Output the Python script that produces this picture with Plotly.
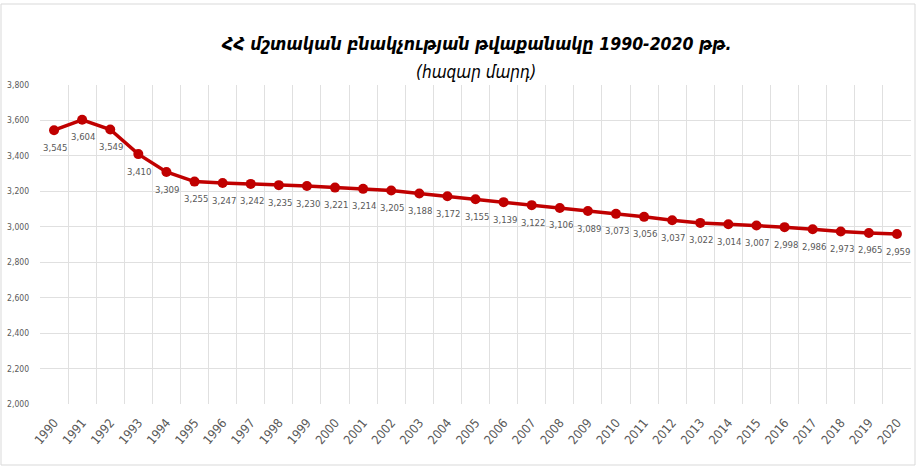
import plotly.graph_objects as go

years = [str(y) for y in range(1990, 2021)]
population = [3545, 3604, 3549, 3410, 3309, 3255, 3247, 3242, 3235, 3230, 3221,
              3214, 3205, 3188, 3172, 3155, 3139, 3122, 3106, 3089, 3073, 3056,
              3037, 3022, 3014, 3007, 2998, 2986, 2973, 2965, 2959]
y_ticks = list(range(2000, 3801, 200))

title_text = "ՀՀ մշտական բնակչության թվաքանակը 1990-2020 թթ."
subtitle_text = "(հազար մարդ)"

xs = list(range(len(years)))
FONT = "DejaVu Sans Condensed"

fig = go.Figure()
fig.add_trace(go.Scatter(
    x=xs, y=population,
    mode="lines+markers",
    line=dict(color="#C00000", width=3.5),
    marker=dict(color="#C00000", size=10),
    hoverinfo="skip",
    cliponaxis=False,
))

W, H = 916, 466
ML, MR, MT, MB = 40, 5, 85, 62
plot_w = W - ML - MR
plot_h = H - MT - MB

annotations = [
    dict(text=f"<b><i>{title_text}</i></b>", x=0.5, y=(H - MB - 32) / plot_h,
         xref="paper", yref="paper", showarrow=False,
         font=dict(family=FONT, size=17.5, color="#000000")),
    dict(text=f"<i>{subtitle_text}</i>", x=0.5, y=(H - MB - 60) / plot_h,
         xref="paper", yref="paper", showarrow=False,
         font=dict(family=FONT, size=17, color="#000000")),
]
for xv, yv in zip(xs, population):
    annotations.append(dict(
        text=f"{yv:,}", x=xv, y=yv, xref="x", yref="y",
        showarrow=False, yshift=-17, xshift=1,
        font=dict(family=FONT, size=9.5, color="#595959"),
    ))

fig.update_layout(
    width=W, height=H,
    margin=dict(l=ML, r=MR, t=MT, b=MB),
    paper_bgcolor="white", plot_bgcolor="white",
    showlegend=False,
    xaxis=dict(
        range=[-0.5, len(years) - 0.5],
        tickvals=xs, ticktext=years,
        tickangle=-50,
        showgrid=False, zeroline=False,
        showline=False,
        tickfont=dict(family=FONT, size=12.5, color="#595959"),
        ticks="",
        ticklabelstandoff=8,
        automargin=False,
        minor=dict(tickvals=[i - 0.5 for i in range(len(years) + 1)],
                   showgrid=True, gridcolor="#E0E0E0", gridwidth=1),
    ),
    yaxis=dict(
        range=[2000, 3800],
        tickvals=y_ticks,
        tickformat=",",
        showgrid=True, gridcolor="#E0E0E0", gridwidth=1,
        zeroline=False,
        tickfont=dict(family=FONT, size=8.5, color="#595959"),
        ticks="",
        ticklabelstandoff=10,
        automargin=False,
    ),
    annotations=annotations,
)

fig.add_shape(type="rect", xref="paper", yref="paper",
              x0=-(ML - 1) / plot_w, x1=1 + (MR - 1) / plot_w,
              y0=-(MB - 1) / plot_h, y1=1 + (MT - 4) / plot_h,
              line=dict(color="#D9D9D9", width=1))

fig.write_html("out.html", config={"displayModeBar": False},
               post_script="document.body.style.margin='0';document.body.style.overflow='hidden';")
